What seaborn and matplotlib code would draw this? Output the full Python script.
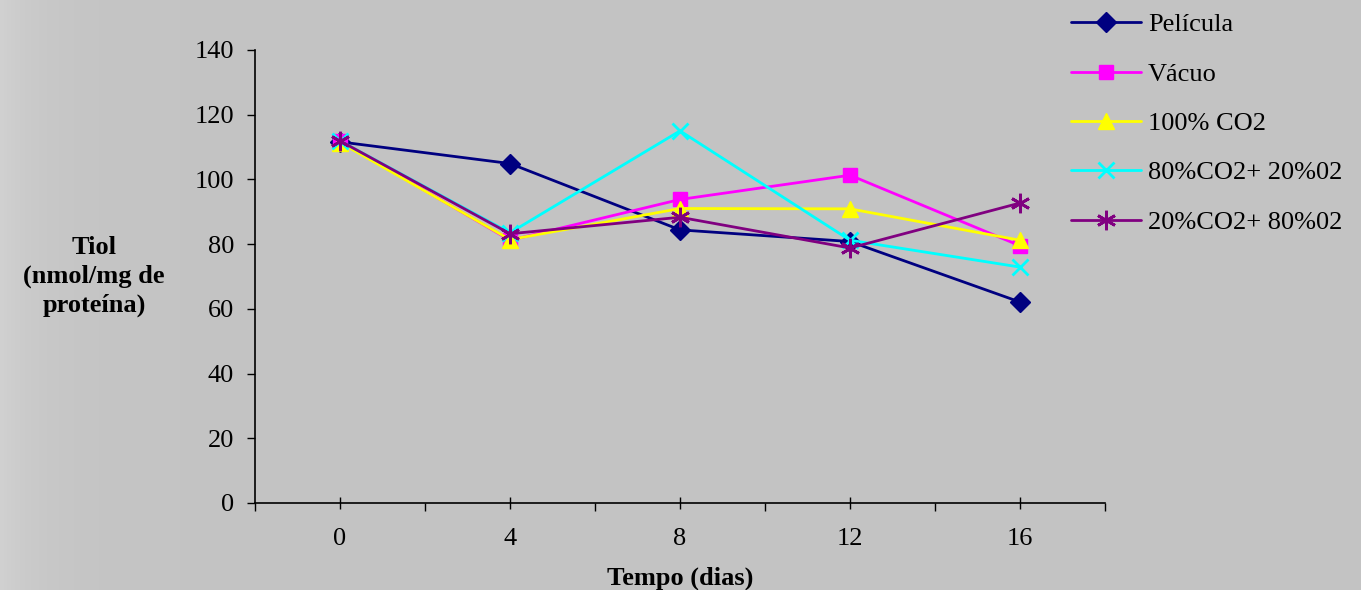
import matplotlib
matplotlib.use("Agg")
import matplotlib.pyplot as plt
import seaborn as sns
import numpy as np
import pandas as pd

days = ["0", "4", "8", "12", "16"]
pelicula = [111.6, 104.9, 84.4, 80.8, 62.1]
vacuo = [111.8, 81.2, 93.8, 101.3, 79.5]
co2_100 = [111.4, 81.4, 91.0, 90.9, 81.2]
co2_80_o2_20 = [111.9, 83.5, 115.0, 81.2, 72.9]
co2_20_o2_80 = [111.9, 83.2, 88.3, 78.8, 92.7]

series_names = ["Película", "Vácuo", "100% CO2", "80%CO2+ 20%02", "20%CO2+ 80%02"]
series_values = [pelicula, vacuo, co2_100, co2_80_o2_20, co2_20_o2_80]
colors = ["#000080", "#FF00FF", "#FFFF00", "#00FFFF", "#800080"]
markers = ["D", "s", "^", "x", (6, 2, 0)]
msizes = [10, 10, 12, 12, 14]

sns.set_theme(style="white")
plt.rcParams["font.family"] = ["Liberation Serif", "DejaVu Serif"]

bg = "#c4c4c4"
fig = plt.figure(figsize=(13.61, 5.90), dpi=100, facecolor=bg)

# subtle lighter left edge, as in the reference background
bgax = fig.add_axes([0, 0, 1, 1], zorder=-1)
bgax.axis("off")
xx = np.linspace(0, 1, 400)
shade = 0.768 + 0.05 * np.exp(-(xx / 0.03))
bgax.imshow(np.tile(np.stack([shade] * 3, axis=-1)[None, :, :], (4, 1, 1)),
            extent=[0, 1, 0, 1], aspect="auto", interpolation="bilinear")
bgax.set_xlim(0, 1)
bgax.set_ylim(0, 1)

ax = fig.add_axes([0.1874, 0.1475, 0.8119 - 0.1874, 0.9153 - 0.1475])
ax.patch.set_alpha(0)

pos = np.arange(len(days))
for name, vals, c, m, ms in zip(series_names, series_values, colors, markers, msizes):
    df = pd.DataFrame({"x": pos, "y": vals})
    sns.lineplot(data=df, x="x", y="y", ax=ax, color=c, marker=m, markersize=ms,
                 markeredgecolor=c, markerfacecolor=c,
                 markeredgewidth=2 if (m == "x" or isinstance(m, tuple)) else 1,
                 linewidth=2, label=name)

ax.set_xlim(-0.5, len(days) - 0.5)
ax.set_ylim(0, 140)
ax.set_yticks(np.arange(0, 141, 20))
ax.set_xticks(pos)
ax.set_xticklabels(days)
ax.set_xticks(np.arange(-0.5, len(days), 1.0), minor=True)

for s in ["top", "right"]:
    ax.spines[s].set_visible(False)
for s in ["left", "bottom"]:
    ax.spines[s].set_color("black")
    ax.spines[s].set_linewidth(1.2)

fs = 19
ax.tick_params(axis="y", which="major", direction="out", length=6, width=1, color="black",
               labelsize=fs, pad=9, left=True)
ax.tick_params(axis="x", which="major", direction="inout", length=8, width=1, color="black",
               labelsize=fs, pad=14, bottom=True)
ax.tick_params(axis="x", which="minor", direction="out", length=6, width=1, color="black", bottom=True)
for lab in ax.get_xticklabels() + ax.get_yticklabels():
    lab.set_color("black")

ax.set_xlabel("")
ax.set_ylabel("")
fig.text(0.4996, 0.010, "Tempo (dias)", ha="center", va="baseline", fontsize=fs, fontweight="bold", color="black")
fig.text(0.069, 0.531, "Tiol\n(nmol/mg de\nproteína)", ha="center", va="center", fontsize=fs,
         fontweight="bold", color="black", linespacing=1.32)

leg = ax.legend(loc="upper left", bbox_to_anchor=(0.787, 0.978), bbox_transform=fig.transFigure,
                frameon=False, fontsize=fs, handlelength=2.65, labelspacing=0.98, handletextpad=0.27,
                borderaxespad=0, borderpad=0)
for t in leg.get_texts():
    t.set_color("black")

fig.savefig("out.png", dpi=100, facecolor=bg)
